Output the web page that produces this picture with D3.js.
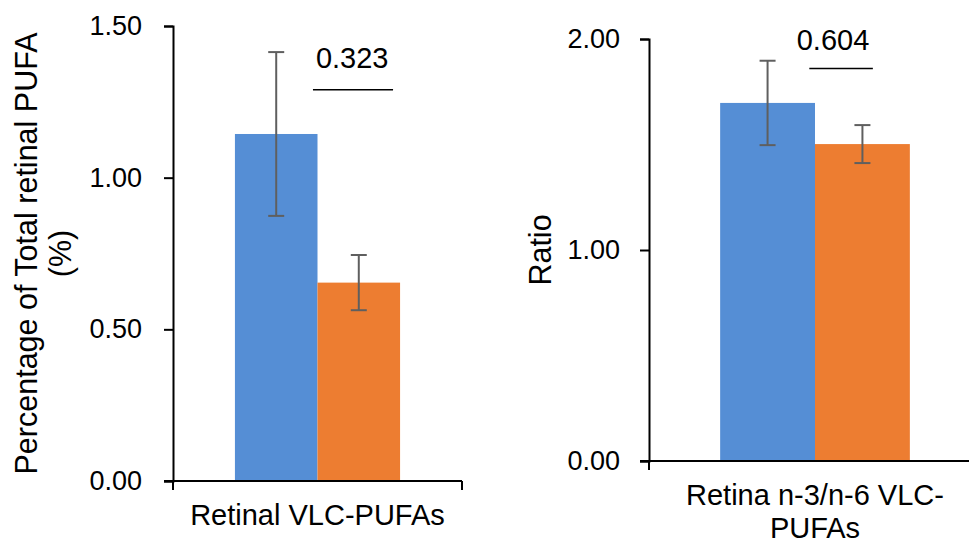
<!DOCTYPE html>
<html>
<head>
<meta charset="utf-8">
<script src="https://cdn.jsdelivr.net/npm/d3@7"></script>
<style>
  html, body { margin: 0; padding: 0; background: #fff; }
  svg { display: block; font-family: "Liberation Sans", Arial, sans-serif; }
  .tick text { fill: #000; }
</style>
</head>
<body>
<div class="d3-wrapper"></div>
<script>
// ---- data ----
const CATEGORIES = ['Retinal VLC-PUFAs', 'Retina n-3/n-6 VLC-PUFAs'];
const CATEGORY_LINES = [['Retinal VLC-PUFAs'], ['Retina n-3/n-6 VLC-', 'PUFAs']];
const SERIES = ['Group 1', 'Group 2'];
const MEANS_1 = [1.144, 1.697];
const SD_1 = [0.27, 0.20];
const MEANS_2 = [0.654, 1.502];
const SD_2 = [0.091, 0.09];
const P_VALUES = ['0.323', '0.604'];
const Y_TICKS = [[0, 0.5, 1, 1.5], [0, 1, 2]];
const Y_MAX = [1.5, 2];
const Y_TITLES = [['Percentage of Total retinal PUFA', '(%)'], ['Ratio']];
// annotation: bracket from/to in "bar units" (0 = left edge of first bar, 2 = right edge of second)
const SIG_FROM = [0.945, 0.94];
const SIG_TO = [1.915, 1.61];
const SIG_Y = [1.29, 1.86];
const SIG_LABEL_X = [1.42, 1.19];
const SIG_LABEL_Y = [1.36, 1.95];

const COLORS = ['#558ed5', '#ed7d31'];
const WIDTH = 969, HEIGHT = 544;
const FONT = 29, TITLE_FONT = 30.5, TICK_FONT = 27;

// panel frames (pixels)
const PANELS = [
  { left: 173, right: 462, top: 26, bottom: 481, titleX: 37, axisEnd: 462, tickPad: 22 },
  { left: 649, right: 981, top: 39, bottom: 461, titleX: 551, axisEnd: 969, tickPad: 20 }
];

const svg = d3.select('.d3-wrapper').append('svg')
  .attr('width', WIDTH)
  .attr('height', HEIGHT);

PANELS.forEach((p, i) => {
  const g = svg.append('g');
  const category = CATEGORIES[i];
  const rows = [
    { s: SERIES[0], mean: MEANS_1[i], sd: SD_1[i] },
    { s: SERIES[1], mean: MEANS_2[i], sd: SD_2[i] }
  ];

  const yScale = d3.scaleLinear().domain([0, Y_MAX[i]]).range([p.bottom, p.top]);
  const xScale = d3.scaleBand().domain([category]).range([p.left, p.right]);
  const inner = d3.scaleBand().domain(SERIES).range([0, xScale.bandwidth()])
    .paddingInner(0).paddingOuter(0.75);
  const x0 = xScale(category);
  const barPos = d3.scaleLinear().domain([0, 2])
    .range([x0 + inner(SERIES[0]), x0 + inner(SERIES[1]) + inner.bandwidth()]);

  // bars
  g.append('g').selectAll('rect')
    .data(rows)
    .enter().append('rect')
    .attr('x', d => x0 + inner(d.s))
    .attr('y', d => yScale(d.mean))
    .attr('width', inner.bandwidth())
    .attr('height', d => yScale(0) - yScale(d.mean))
    .attr('fill', (d, k) => COLORS[k]);

  // error bars
  const err = g.append('g')
    .attr('stroke', '#5f5f5f')
    .attr('stroke-width', 2)
    .selectAll('g')
    .data(rows)
    .enter().append('g');
  const cx = d => x0 + inner(d.s) + inner.bandwidth() / 2;
  err.append('line')
    .attr('x1', cx).attr('x2', cx)
    .attr('y1', d => yScale(d.mean - d.sd))
    .attr('y2', d => yScale(d.mean + d.sd));
  [1, -1].forEach(sign => {
    err.append('line')
      .attr('x1', d => cx(d) - 8).attr('x2', d => cx(d) + 8)
      .attr('y1', d => yScale(d.mean + sign * d.sd))
      .attr('y2', d => yScale(d.mean + sign * d.sd));
  });

  // y axis
  const yAxis = d3.axisLeft(yScale)
    .tickValues(Y_TICKS[i])
    .tickSizeOuter(0)
    .tickSize(9)
    .tickPadding(p.tickPad)
    .tickFormat(d3.format('.2f'));
  const ya = g.append('g')
    .attr('transform', `translate(${p.left}, 0)`)
    .call(yAxis);
  ya.select('.domain').attr('stroke', '#000').attr('stroke-width', 2);
  ya.selectAll('.tick line').attr('stroke', '#000').attr('stroke-width', 2);
  ya.selectAll('.tick text')
    .style('font-size', TICK_FONT + 'px')
    .style('font-family', '"Liberation Sans", Arial, sans-serif');

  // x axis: baseline plus category boundary ticks
  g.append('line')
    .attr('x1', p.left - 9).attr('x2', p.axisEnd)
    .attr('y1', yScale(0)).attr('y2', yScale(0))
    .attr('stroke', '#000').attr('stroke-width', 2);
  g.append('g').selectAll('line')
    .data([x0, x0 + xScale.bandwidth()])
    .enter().append('line')
    .attr('x1', d => d).attr('x2', d => d)
    .attr('y1', yScale(0)).attr('y2', yScale(0) + 9)
    .attr('stroke', '#000').attr('stroke-width', 2);

  // category label
  const cat = g.append('text')
    .attr('x', x0 + xScale.bandwidth() / 2)
    .attr('y', yScale(0) + 44)
    .attr('text-anchor', 'middle')
    .style('font-size', FONT + 'px');
  CATEGORY_LINES[i].forEach((t, k) => {
    cat.append('tspan')
      .attr('x', x0 + xScale.bandwidth() / 2)
      .attr('dy', k === 0 ? 0 : 33)
      .text(t);
  });

  // y title
  const yMid = (p.top + p.bottom) / 2;
  const title = g.append('text')
    .attr('transform', `translate(${p.titleX}, ${yMid}) rotate(-90)`)
    .attr('text-anchor', 'middle')
    .style('font-size', TITLE_FONT + 'px');
  Y_TITLES[i].forEach((t, k) => {
    title.append('tspan')
      .attr('x', 0)
      .attr('dy', k === 0 ? 0 : 34)
      .text(t);
  });

  // significance annotation
  g.append('line')
    .attr('x1', barPos(SIG_FROM[i])).attr('x2', barPos(SIG_TO[i]))
    .attr('y1', yScale(SIG_Y[i])).attr('y2', yScale(SIG_Y[i]))
    .attr('stroke', '#000').attr('stroke-width', 1.5);
  g.append('text')
    .attr('x', barPos(SIG_LABEL_X[i]))
    .attr('y', yScale(SIG_LABEL_Y[i]))
    .attr('text-anchor', 'middle')
    .style('font-size', FONT + 'px')
    .text(P_VALUES[i]);
});
</script>
</body>
</html>
